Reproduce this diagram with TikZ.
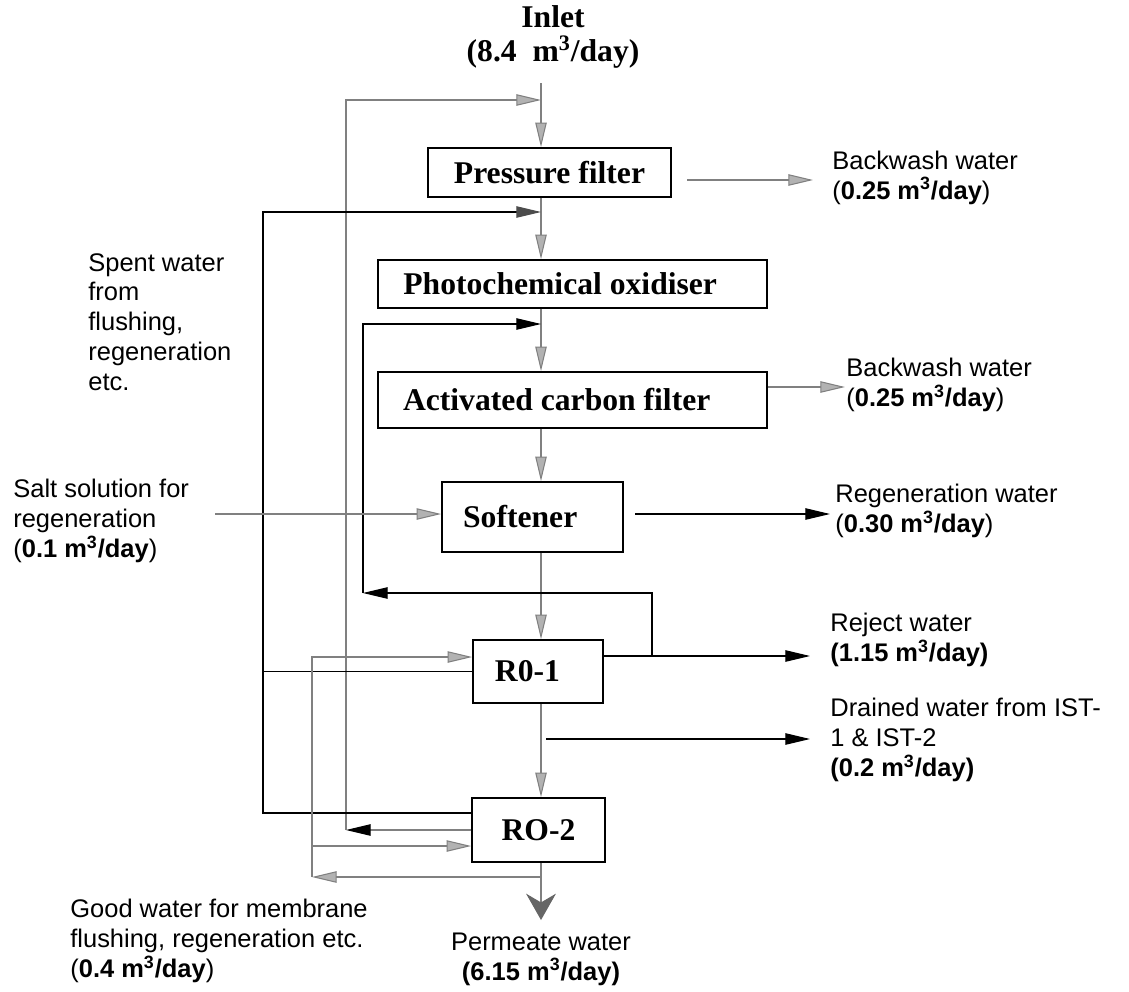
\documentclass[tikz,border=0pt]{standalone}
\usepackage{fontspec}
\setmainfont{Liberation Serif}
\setsansfont{Liberation Sans}
\usetikzlibrary{arrows.meta}
\newcommand{\mday}{m\textsuperscript{3}/day}
\tikzset{
        procbox/.style={draw, line width=1pt, inner sep=0pt, font=\bfseries\fontsize{18}{20}\selectfont},
        lab/.style={font=\sffamily\fontsize{14.5}{17}\selectfont, align=left, anchor=west, inner sep=0pt},
        gline/.style={draw=black!50, line width=0.6pt},
        bline/.style={draw=black, line width=0.6pt},
        gtip/.style={-{Triangle[length=14pt,width=6.5pt,fill=black!30,color=black!50]}},
        btip/.style={-{Triangle[length=14pt,width=6.5pt,fill=black,color=black]}}
}
\begin{document}
\begin{tikzpicture}[x=0.02cm, y=-0.02cm]
        \useasboundingbox (0,0) rectangle (1129,991);
        \node[font=\bfseries\fontsize{18}{19.5}\selectfont, align=center, inner sep=0pt] (inlet) at (553,37) {Inlet\\(8.4~~\mday)};
        \coordinate (inlettop) at (541,83);
        \node[procbox, minimum width=4.86cm, minimum height=0.98cm] (pf) at (549.5,172.5) {Pressure filter};
        \node[procbox, minimum width=7.78cm, minimum height=0.96cm] (pco) at (572.5,284) {Photochemical oxidiser\hspace*{14pt}};
        \node[procbox, minimum width=7.78cm, minimum height=1.12cm] (acf) at (572.5,400) {Activated carbon filter\hspace*{18pt}};
        \node[procbox, minimum width=3.62cm, minimum height=1.40cm] (soft) at (532.5,517) {Softener\hspace*{14pt}};
        \node[procbox, minimum width=2.60cm, minimum height=1.26cm] (ro1) at (538,671.5) {R0-1\hspace*{12pt}};
        \node[procbox, minimum width=2.66cm, minimum height=1.28cm] (ro2) at (538.5,830) {RO-2};
        \coordinate (perm) at (541,920);
        \draw[gline, gtip] (inlettop) -- (pf.north -| inlettop);
        \draw[gline, gtip] (pf.south -| inlettop) -- (pco.north -| inlettop);
        \draw[gline, gtip] (pco.south -| inlettop) -- (acf.north -| inlettop);
        \draw[gline, gtip] (acf.south -| inlettop) -- (soft.north -| inlettop);
        \draw[gline, gtip] (soft.south -| inlettop) -- (ro1.north -| inlettop);
        \draw[gline, gtip] (ro1.south -| inlettop) -- (ro2.north -| inlettop);
        \draw[gline, -{Stealth[length=15pt,width=17pt,inset=5pt,fill=black!60,color=black!60]}] (ro2.south -| inlettop) -- (perm);
        \coordinate (ja) at (541,100);
        \coordinate (jb) at (541,212);
        \coordinate (jc) at (541,324);
        \coordinate (ra) at (346,830);
        \coordinate (rat) at (346,100);
        \draw[gline, btip] (ro2.west) -- (ra);
        \draw[gline, gtip] (ra) -- (rat) -- (ja);
        \coordinate (rb) at (263,813);
        \coordinate (rbt) at (263,212);
        \draw[bline] (ro1.west) -- (ro1.west -| rb);
        \draw[bline, -{Triangle[length=14pt,width=6.5pt,fill=black!70,color=black!70]}] (rb -| ro2.west) -- (rb) -- (rbt) -- (jb);
        \coordinate (rc) at (652,656);
        \coordinate (rcm) at (652,593);
        \coordinate (rcl) at (363,593);
        \coordinate (rct) at (363,324);
        \draw[bline, btip] (rc) -- (rcm) -- (rcl);
        \draw[bline, btip] (rcl) -- (rct) -- (jc);
        \coordinate (gd) at (541,877);
        \coordinate (gdl) at (312,877);
        \coordinate (gdm) at (312,846);
        \coordinate (gdt) at (312,657);
        \draw[gline, gtip] (gd) -- (gdl);
        \draw[gline, gtip] (gdl) -- (gdt) -- (gdt -| ro1.west);
        \draw[gline, gtip] (gdm) -- (gdm -| ro2.west);
        \coordinate (rej) at (810,656);
        \draw[bline, btip] (rej -| ro1.east) -- (rej);
        \coordinate (drs) at (546,739);
        \coordinate (dre) at (810,739);
        \draw[bline, btip] (drs) -- (dre);
        \coordinate (rgs) at (635,514);
        \coordinate (rge) at (830,514);
        \draw[bline, btip] (rgs) -- (rge);
        \coordinate (bws) at (687,180);
        \coordinate (bwe) at (813,180);
        \draw[gline, gtip] (bws) -- (bwe);
        \coordinate (bwf) at (845,387);
        \draw[gline, gtip] (bwf -| acf.east) -- (bwf);
        \coordinate (sls) at (215,514);
        \draw[gline, gtip] (sls) -- (sls -| soft.west);
        \node[lab] (bwlab) at (832,177.5) {Backwash water\\(\textbf{0.25 \mday})};
        \node[lab] (bwlabb) at (846,385) {Backwash water\\(\textbf{0.25 \mday})};
        \node[lab] (rglab) at (835,511) {Regeneration water\\(\textbf{0.30 \mday})};
        \node[lab] (rjlab) at (830,640) {Reject water\\\textbf{(1.15 \mday)}};
        \node[lab] (drlab) at (830,740) {Drained water from IST-\\1 \& IST-2\\\textbf{(0.2 \mday)}};
        \node[lab] (sllab) at (13,521) {Salt solution for\\regeneration\\(\textbf{0.1 \mday})};
        \node[lab] (splab) at (88,322) {Spent water\\from\\flushing,\\regeneration\\etc.};
        \node[lab] (gwlab) at (70,941) {Good water for membrane\\flushing, regeneration etc.\\(\textbf{0.4 \mday})};
        \node[lab, anchor=center, align=center] (pmlab) at (541,959) {Permeate water\\\textbf{(6.15 \mday)}};
\end{tikzpicture}
\end{document}
